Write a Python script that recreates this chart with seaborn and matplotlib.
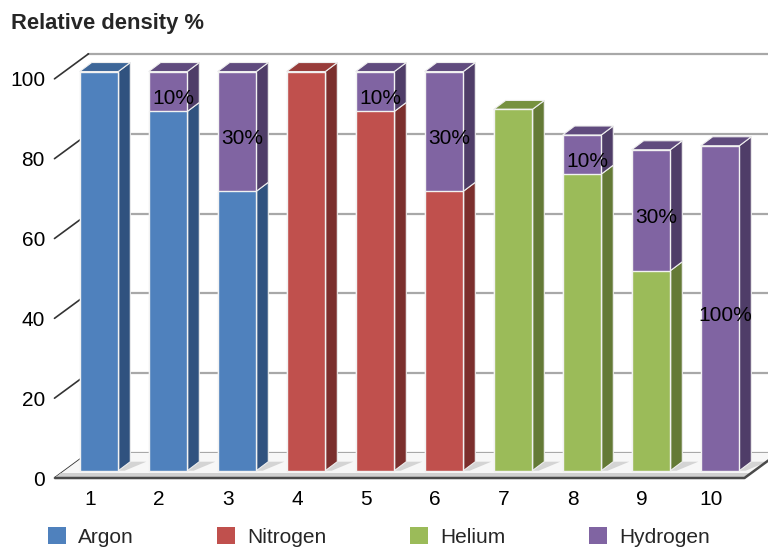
import matplotlib
matplotlib.use("Agg")
import matplotlib.pyplot as plt
import matplotlib.transforms as mtransforms
from matplotlib.patches import Polygon, Patch
import numpy as np
import pandas as pd
import seaborn as sns

sns.set_style("white")
plt.rcParams["font.family"] = ["Liberation Sans", "DejaVu Sans"]

# -----------------------------
# Data
# -----------------------------
samples = ["1", "2", "3", "4", "5", "6", "7", "8", "9", "10"]
gases = ["Argon", "Nitrogen", "Helium", "Hydrogen"]

argon    = [100, 90, 70, 0, 0, 0, 0, 0, 0, 0]
nitrogen = [0, 0, 0, 100, 90, 70, 0, 0, 0, 0]
helium   = [0, 0, 0, 0, 0, 0, 90.5, 74.3, 50.1, 0]
hydrogen = [0, 10, 30, 0, 10, 30, 0, 9.8, 30.3, 81.4]
mix_labels = ["", "10%", "30%", "", "10%", "30%", "", "10%", "30%", "100%"]

yticks = [0, 20, 40, 60, 80, 100]

front = {"Argon": "#4f81bd", "Nitrogen": "#c0504d", "Helium": "#9bbb59", "Hydrogen": "#8064a2"}
side = {"Argon": "#30527f", "Nitrogen": "#7b2f2d", "Helium": "#647a36", "Hydrogen": "#4f3d68"}
top = {"Argon": "#3d6698", "Nitrogen": "#983c3a", "Helium": "#76913f", "Hydrogen": "#604b7e"}

base = np.array(argon) + np.array(nitrogen) + np.array(helium)
total = base + np.array(hydrogen)
base_gas = []
for a, n, h in zip(argon, nitrogen, helium):
    if a > 0:
        base_gas.append("Argon")
    elif n > 0:
        base_gas.append("Nitrogen")
    elif h > 0:
        base_gas.append("Helium")
    else:
        base_gas.append("Hydrogen")
top_gas = ["Hydrogen" if hy > 0 else g for hy, g in zip(hydrogen, base_gas)]

# -----------------------------
# Figure / axes geometry (pixels)
# -----------------------------
W, H = 768, 547
ax_l, ax_r, ax_top, ax_bot = 50, 768, 40, 482
xlim = (-0.71, 9.696)
ylim = (-2.83, 107.9)

fig = plt.figure(figsize=(W / 100, H / 100), dpi=100)
ax = fig.add_axes([ax_l / W, 1 - ax_bot / H, (ax_r - ax_l) / W, (ax_bot - ax_top) / H])

PX_X = (ax_r - ax_l) / (xlim[1] - xlim[0])
PX_Y = (ax_bot - ax_top) / (ylim[1] - ylim[0])


def off(px, py):
    return px / PX_X, py / PX_Y


bar_w = 0.56
dx, dy = off(12, 9)          # bar depth
fx, fy = off(-10, -7.3)      # floor front plane
bx, by = off(24, 17.7)       # back wall plane
LEFT, RIGHT = -0.5, 9.5

# -----------------------------
# Front faces (seaborn)
# -----------------------------
top_df = pd.DataFrame({"sample": samples, "value": total, "gas": top_gas})
sns.barplot(data=top_df, x="sample", y="value", hue="gas", hue_order=gases,
            palette=front, order=samples, dodge=False, width=bar_w, saturation=1,
            edgecolor="#f2f2f2", linewidth=1, legend=False, ax=ax)

base_df = pd.DataFrame({"sample": samples, "value": base, "gas": base_gas})
base_df = base_df[base_df["value"] > 0]
sns.barplot(data=base_df, x="sample", y="value", hue="gas", hue_order=gases,
            palette=front, order=samples, dodge=False, width=bar_w, saturation=1,
            edgecolor="#f2f2f2", linewidth=1, legend=False, ax=ax)

for p in ax.patches:
    p.set_zorder(3)

# -----------------------------
# 3D sides and tops
# -----------------------------
for i in range(len(samples)):
    xr = i + bar_w / 2
    xl = i - bar_w / 2
    segs = []
    if base[i] > 0:
        segs.append((0, base[i], base_gas[i]))
    if hydrogen[i] > 0:
        segs.append((base[i], total[i], "Hydrogen"))
    for y0, y1, g in segs:
        ax.add_patch(Polygon([(xr, y0), (xr + dx, y0 + dy), (xr + dx, y1 + dy), (xr, y1)],
                             closed=True, facecolor=side[g], edgecolor="#eeeeee",
                             linewidth=0.8, zorder=2.5))
    g = top_gas[i]
    y1 = total[i]
    ax.add_patch(Polygon([(xl, y1), (xl + dx, y1 + dy), (xr + dx, y1 + dy), (xr, y1)],
                         closed=True, facecolor=top[g], edgecolor="#eeeeee",
                         linewidth=0.8, zorder=2.5))
    # floor shadow
    sx, _ = off(16, 0)
    ax.add_patch(Polygon([(xr, 0), (xr + dx, dy), (xr + dx + sx, dy), (xr + sx * 0.4, 0)],
                         closed=True, facecolor="#d4d4d4", edgecolor="none", zorder=1.2))

# -----------------------------
# Floor, back wall, left diagonals
# -----------------------------
floor = [(LEFT + fx, fy), (RIGHT + fx, fy), (RIGHT + bx, by), (LEFT + bx, by)]
ax.add_patch(Polygon(floor, closed=True, facecolor="#f7f7f7", edgecolor="none", zorder=1))
_, band = off(0, 5)
ax.add_patch(Polygon([(LEFT + fx, fy), (RIGHT + fx, fy),
                      (RIGHT + fx + 5 / PX_X * 1.35, fy + band),
                      (LEFT + fx + 5 / PX_X * 1.35, fy + band)],
                     closed=True, facecolor="#d0d0d0", edgecolor="none", zorder=1.1))
ax.plot([LEFT + fx, RIGHT + fx, RIGHT + bx], [fy, fy, by], color="#4a4a4a",
        lw=1.8, zorder=1.3, solid_capstyle="butt")

for v in yticks:
    ax.plot([LEFT + bx, xlim[1] + 1], [v + by, v + by], color="#a8a8a8", lw=1.6, zorder=0.8)
    ax.plot([LEFT + fx, LEFT + bx], [v + fy, v + by], color="#333333", lw=1.2, zorder=0.9)

# -----------------------------
# Mixture labels
# -----------------------------
for i, lab in enumerate(mix_labels):
    if lab:
        xo, yo = off(5, -7.3)
        ax.text(i + xo, (base[i] + total[i]) / 2 + yo, lab, ha="center", va="center",
                fontsize=15, color="black", zorder=5)

# -----------------------------
# Axes styling
# -----------------------------
ax.set_xlim(*xlim)
ax.set_ylim(*ylim)
ax.set_xlabel("")
ax.set_ylabel("")
ax.set_yticks(yticks)
ax.set_yticklabels([str(v) for v in yticks])
ax.set_xticks(range(len(samples)))
ax.set_xticklabels(samples)
ax.tick_params(axis="x", length=0, pad=5.8, labelsize=15, colors="black")
ax.tick_params(axis="y", length=0, pad=3.6, labelsize=15, colors="black")
for s in ax.spines.values():
    s.set_visible(False)
ax.grid(False)
ax.set_facecolor("white")

shift_x = mtransforms.ScaledTranslation(-9 / 100, 0, fig.dpi_scale_trans)
for lab in ax.get_xticklabels():
    lab.set_transform(lab.get_transform() + shift_x)
shift_y = mtransforms.ScaledTranslation(0, -7.3 / 100, fig.dpi_scale_trans)
for lab in ax.get_yticklabels():
    lab.set_transform(lab.get_transform() + shift_y)

fig.text(11 / W, 1 - 24 / H, "Relative density %", fontsize=15.8, fontweight="bold",
         ha="left", va="center")

handles = [Patch(facecolor=front[g], edgecolor="none", label=g) for g in gases]
fig.legend(handles=handles, loc="center left", bbox_to_anchor=(48 / W, 1 - 537 / H),
           ncol=4, frameon=False, fontsize=15, handlelength=0.87, handleheight=0.87,
           handletextpad=0.58, columnspacing=4.0, borderpad=0, borderaxespad=0)

fig.savefig("out.png", dpi=100)
plt.close(fig)
